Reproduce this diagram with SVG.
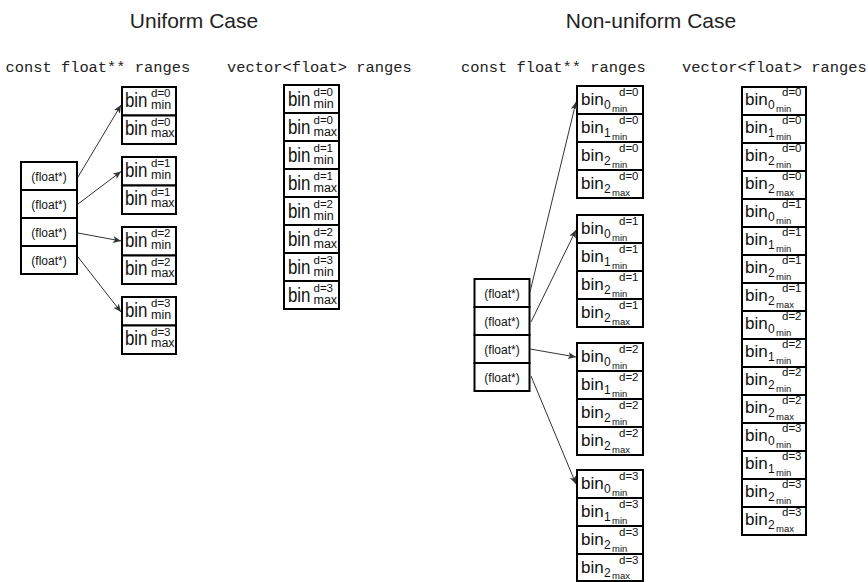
<svg xmlns="http://www.w3.org/2000/svg" width="868" height="582" viewBox="0 0 868 582">
<style>
text{font-family:"Liberation Sans",Arial,sans-serif;fill:#111}
rect.c{fill:#fff;stroke:#000;stroke-width:2}
.t{font-size:21px;fill:#222;text-anchor:middle}
.h{font-family:"Liberation Mono","Courier New",monospace;font-size:15.4px;fill:#222}
.ub{font-size:20px}
.us{font-size:11.5px}
.ul{font-size:12.5px}
.nb{font-size:17px}
.nd{font-size:12px}
.nm{font-size:9.5px}
.ns{font-size:11.5px}
.f{font-size:12px;text-anchor:middle}
.arr line{stroke:#333;stroke-width:1;marker-end:url(#ah)}
</style>
<defs>
<marker id="ah" markerUnits="userSpaceOnUse" markerWidth="9" markerHeight="8" refX="8" refY="3.5" orient="auto">
<path d="M0,0 L8,3.5 L0,7 L2,3.5 Z" fill="#333"/>
</marker>
</defs>
<rect width="868" height="582" fill="#fff"/>
<g id="titles">
<text class="t" x="194" y="28">Uniform Case</text>
<text class="t" x="651" y="28">Non-uniform Case</text>
<text class="h" x="5.5" y="71.5">const float** ranges</text>
<text class="h" x="227" y="71.5">vector&lt;float&gt; ranges</text>
<text class="h" x="461" y="71.5">const float** ranges</text>
<text class="h" x="682" y="71.5">vector&lt;float&gt; ranges</text>
</g>
<g id="uniform-ptrs">
<rect class="c" x="21" y="162" width="56" height="28"/><text class="f" x="49" y="180.5">(float*)</text>
<rect class="c" x="21" y="190" width="56" height="28"/><text class="f" x="49" y="208.5">(float*)</text>
<rect class="c" x="21" y="218" width="56" height="28"/><text class="f" x="49" y="236.5">(float*)</text>
<rect class="c" x="21" y="246" width="56" height="28"/><text class="f" x="49" y="264.5">(float*)</text>
</g>
<g id="uniform-d0">
<g transform="translate(122,87)"><rect class="c" width="54" height="28.5"/><text class="ub" x="3" y="19.5" textLength="22.5" lengthAdjust="spacingAndGlyphs">bin</text><text class="us" x="29" y="10">d=0</text><text class="ul" x="29" y="21.5">min</text></g>
<g transform="translate(122,115.5)"><rect class="c" width="54" height="28.5"/><text class="ub" x="3" y="19.5" textLength="22.5" lengthAdjust="spacingAndGlyphs">bin</text><text class="us" x="29" y="10">d=0</text><text class="ul" x="29" y="21.5">max</text></g>
</g>
<g id="uniform-d1">
<g transform="translate(122,157)"><rect class="c" width="54" height="28.5"/><text class="ub" x="3" y="19.5" textLength="22.5" lengthAdjust="spacingAndGlyphs">bin</text><text class="us" x="29" y="10">d=1</text><text class="ul" x="29" y="21.5">min</text></g>
<g transform="translate(122,185.5)"><rect class="c" width="54" height="28.5"/><text class="ub" x="3" y="19.5" textLength="22.5" lengthAdjust="spacingAndGlyphs">bin</text><text class="us" x="29" y="10">d=1</text><text class="ul" x="29" y="21.5">max</text></g>
</g>
<g id="uniform-d2">
<g transform="translate(122,227)"><rect class="c" width="54" height="28.5"/><text class="ub" x="3" y="19.5" textLength="22.5" lengthAdjust="spacingAndGlyphs">bin</text><text class="us" x="29" y="10">d=2</text><text class="ul" x="29" y="21.5">min</text></g>
<g transform="translate(122,255.5)"><rect class="c" width="54" height="28.5"/><text class="ub" x="3" y="19.5" textLength="22.5" lengthAdjust="spacingAndGlyphs">bin</text><text class="us" x="29" y="10">d=2</text><text class="ul" x="29" y="21.5">max</text></g>
</g>
<g id="uniform-d3">
<g transform="translate(122,297)"><rect class="c" width="54" height="28.5"/><text class="ub" x="3" y="19.5" textLength="22.5" lengthAdjust="spacingAndGlyphs">bin</text><text class="us" x="29" y="10">d=3</text><text class="ul" x="29" y="21.5">min</text></g>
<g transform="translate(122,325.5)"><rect class="c" width="54" height="28.5"/><text class="ub" x="3" y="19.5" textLength="22.5" lengthAdjust="spacingAndGlyphs">bin</text><text class="us" x="29" y="10">d=3</text><text class="ul" x="29" y="21.5">max</text></g>
</g>
<g id="uniform-vector">
<g transform="translate(284,85)"><rect class="c" width="55" height="28"/><text class="ub" x="4" y="21" textLength="22.5" lengthAdjust="spacingAndGlyphs">bin</text><text class="us" x="29.5" y="11">d=0</text><text class="ul" x="29.5" y="23">min</text></g>
<g transform="translate(284,113)"><rect class="c" width="55" height="28"/><text class="ub" x="4" y="21" textLength="22.5" lengthAdjust="spacingAndGlyphs">bin</text><text class="us" x="29.5" y="11">d=0</text><text class="ul" x="29.5" y="23">max</text></g>
<g transform="translate(284,141)"><rect class="c" width="55" height="28"/><text class="ub" x="4" y="21" textLength="22.5" lengthAdjust="spacingAndGlyphs">bin</text><text class="us" x="29.5" y="11">d=1</text><text class="ul" x="29.5" y="23">min</text></g>
<g transform="translate(284,169)"><rect class="c" width="55" height="28"/><text class="ub" x="4" y="21" textLength="22.5" lengthAdjust="spacingAndGlyphs">bin</text><text class="us" x="29.5" y="11">d=1</text><text class="ul" x="29.5" y="23">max</text></g>
<g transform="translate(284,197)"><rect class="c" width="55" height="28"/><text class="ub" x="4" y="21" textLength="22.5" lengthAdjust="spacingAndGlyphs">bin</text><text class="us" x="29.5" y="11">d=2</text><text class="ul" x="29.5" y="23">min</text></g>
<g transform="translate(284,225)"><rect class="c" width="55" height="28"/><text class="ub" x="4" y="21" textLength="22.5" lengthAdjust="spacingAndGlyphs">bin</text><text class="us" x="29.5" y="11">d=2</text><text class="ul" x="29.5" y="23">max</text></g>
<g transform="translate(284,253)"><rect class="c" width="55" height="28"/><text class="ub" x="4" y="21" textLength="22.5" lengthAdjust="spacingAndGlyphs">bin</text><text class="us" x="29.5" y="11">d=3</text><text class="ul" x="29.5" y="23">min</text></g>
<g transform="translate(284,281)"><rect class="c" width="55" height="28"/><text class="ub" x="4" y="21" textLength="22.5" lengthAdjust="spacingAndGlyphs">bin</text><text class="us" x="29.5" y="11">d=3</text><text class="ul" x="29.5" y="23">max</text></g>
</g>
<g id="nonuniform-ptrs">
<rect class="c" x="474.5" y="279" width="55" height="28"/><text class="f" x="502" y="297.5">(float*)</text>
<rect class="c" x="474.5" y="307" width="55" height="28"/><text class="f" x="502" y="325.5">(float*)</text>
<rect class="c" x="474.5" y="335" width="55" height="28"/><text class="f" x="502" y="353.5">(float*)</text>
<rect class="c" x="474.5" y="363" width="55" height="28"/><text class="f" x="502" y="381.5">(float*)</text>
</g>
<g id="nonuniform-d0">
<g transform="translate(577,86)"><rect class="c" width="66" height="28"/><text class="nb" x="4" y="19">bin</text><text class="nd" x="27" y="23">0</text><text class="nm" x="35" y="25.5">min</text><text class="ns" x="42" y="9.5">d=0</text></g>
<g transform="translate(577,114)"><rect class="c" width="66" height="28"/><text class="nb" x="4" y="19">bin</text><text class="nd" x="27" y="23">1</text><text class="nm" x="35" y="25.5">min</text><text class="ns" x="42" y="9.5">d=0</text></g>
<g transform="translate(577,142)"><rect class="c" width="66" height="28"/><text class="nb" x="4" y="19">bin</text><text class="nd" x="27" y="23">2</text><text class="nm" x="35" y="25.5">min</text><text class="ns" x="42" y="9.5">d=0</text></g>
<g transform="translate(577,170)"><rect class="c" width="66" height="28"/><text class="nb" x="4" y="19">bin</text><text class="nd" x="27" y="23">2</text><text class="nm" x="35" y="25.5">max</text><text class="ns" x="42" y="9.5">d=0</text></g>
</g>
<g id="nonuniform-d1">
<g transform="translate(577,215)"><rect class="c" width="66" height="28"/><text class="nb" x="4" y="19">bin</text><text class="nd" x="27" y="23">0</text><text class="nm" x="35" y="25.5">min</text><text class="ns" x="42" y="9.5">d=1</text></g>
<g transform="translate(577,243)"><rect class="c" width="66" height="28"/><text class="nb" x="4" y="19">bin</text><text class="nd" x="27" y="23">1</text><text class="nm" x="35" y="25.5">min</text><text class="ns" x="42" y="9.5">d=1</text></g>
<g transform="translate(577,271)"><rect class="c" width="66" height="28"/><text class="nb" x="4" y="19">bin</text><text class="nd" x="27" y="23">2</text><text class="nm" x="35" y="25.5">min</text><text class="ns" x="42" y="9.5">d=1</text></g>
<g transform="translate(577,299)"><rect class="c" width="66" height="28"/><text class="nb" x="4" y="19">bin</text><text class="nd" x="27" y="23">2</text><text class="nm" x="35" y="25.5">max</text><text class="ns" x="42" y="9.5">d=1</text></g>
</g>
<g id="nonuniform-d2">
<g transform="translate(577,343)"><rect class="c" width="66" height="28"/><text class="nb" x="4" y="19">bin</text><text class="nd" x="27" y="23">0</text><text class="nm" x="35" y="25.5">min</text><text class="ns" x="42" y="9.5">d=2</text></g>
<g transform="translate(577,371)"><rect class="c" width="66" height="28"/><text class="nb" x="4" y="19">bin</text><text class="nd" x="27" y="23">1</text><text class="nm" x="35" y="25.5">min</text><text class="ns" x="42" y="9.5">d=2</text></g>
<g transform="translate(577,399)"><rect class="c" width="66" height="28"/><text class="nb" x="4" y="19">bin</text><text class="nd" x="27" y="23">2</text><text class="nm" x="35" y="25.5">min</text><text class="ns" x="42" y="9.5">d=2</text></g>
<g transform="translate(577,427)"><rect class="c" width="66" height="28"/><text class="nb" x="4" y="19">bin</text><text class="nd" x="27" y="23">2</text><text class="nm" x="35" y="25.5">max</text><text class="ns" x="42" y="9.5">d=2</text></g>
</g>
<g id="nonuniform-d3">
<g transform="translate(577,470)"><rect class="c" width="66" height="28"/><text class="nb" x="4" y="19">bin</text><text class="nd" x="27" y="23">0</text><text class="nm" x="35" y="25.5">min</text><text class="ns" x="42" y="9.5">d=3</text></g>
<g transform="translate(577,498)"><rect class="c" width="66" height="28"/><text class="nb" x="4" y="19">bin</text><text class="nd" x="27" y="23">1</text><text class="nm" x="35" y="25.5">min</text><text class="ns" x="42" y="9.5">d=3</text></g>
<g transform="translate(577,526)"><rect class="c" width="66" height="28"/><text class="nb" x="4" y="19">bin</text><text class="nd" x="27" y="23">2</text><text class="nm" x="35" y="25.5">min</text><text class="ns" x="42" y="9.5">d=3</text></g>
<g transform="translate(577,554)"><rect class="c" width="66" height="27"/><text class="nb" x="4" y="19">bin</text><text class="nd" x="27" y="23">2</text><text class="nm" x="35" y="25">max</text><text class="ns" x="42" y="9.5">d=3</text></g>
</g>
<g id="nonuniform-vector">
<g transform="translate(742,87)"><rect class="c" width="64" height="28"/><text class="nb" x="3" y="18">bin</text><text class="nd" x="26" y="22">0</text><text class="nm" x="34" y="24.5">min</text><text class="ns" x="40" y="9">d=0</text></g>
<g transform="translate(742,115)"><rect class="c" width="64" height="28"/><text class="nb" x="3" y="18">bin</text><text class="nd" x="26" y="22">1</text><text class="nm" x="34" y="24.5">min</text><text class="ns" x="40" y="9">d=0</text></g>
<g transform="translate(742,143)"><rect class="c" width="64" height="28"/><text class="nb" x="3" y="18">bin</text><text class="nd" x="26" y="22">2</text><text class="nm" x="34" y="24.5">min</text><text class="ns" x="40" y="9">d=0</text></g>
<g transform="translate(742,171)"><rect class="c" width="64" height="28"/><text class="nb" x="3" y="18">bin</text><text class="nd" x="26" y="22">2</text><text class="nm" x="34" y="24.5">max</text><text class="ns" x="40" y="9">d=0</text></g>
<g transform="translate(742,199)"><rect class="c" width="64" height="28"/><text class="nb" x="3" y="18">bin</text><text class="nd" x="26" y="22">0</text><text class="nm" x="34" y="24.5">min</text><text class="ns" x="40" y="9">d=1</text></g>
<g transform="translate(742,227)"><rect class="c" width="64" height="28"/><text class="nb" x="3" y="18">bin</text><text class="nd" x="26" y="22">1</text><text class="nm" x="34" y="24.5">min</text><text class="ns" x="40" y="9">d=1</text></g>
<g transform="translate(742,255)"><rect class="c" width="64" height="28"/><text class="nb" x="3" y="18">bin</text><text class="nd" x="26" y="22">2</text><text class="nm" x="34" y="24.5">min</text><text class="ns" x="40" y="9">d=1</text></g>
<g transform="translate(742,283)"><rect class="c" width="64" height="28"/><text class="nb" x="3" y="18">bin</text><text class="nd" x="26" y="22">2</text><text class="nm" x="34" y="24.5">max</text><text class="ns" x="40" y="9">d=1</text></g>
<g transform="translate(742,311)"><rect class="c" width="64" height="28"/><text class="nb" x="3" y="18">bin</text><text class="nd" x="26" y="22">0</text><text class="nm" x="34" y="24.5">min</text><text class="ns" x="40" y="9">d=2</text></g>
<g transform="translate(742,339)"><rect class="c" width="64" height="28"/><text class="nb" x="3" y="18">bin</text><text class="nd" x="26" y="22">1</text><text class="nm" x="34" y="24.5">min</text><text class="ns" x="40" y="9">d=2</text></g>
<g transform="translate(742,367)"><rect class="c" width="64" height="28"/><text class="nb" x="3" y="18">bin</text><text class="nd" x="26" y="22">2</text><text class="nm" x="34" y="24.5">min</text><text class="ns" x="40" y="9">d=2</text></g>
<g transform="translate(742,395)"><rect class="c" width="64" height="28"/><text class="nb" x="3" y="18">bin</text><text class="nd" x="26" y="22">2</text><text class="nm" x="34" y="24.5">max</text><text class="ns" x="40" y="9">d=2</text></g>
<g transform="translate(742,423)"><rect class="c" width="64" height="28"/><text class="nb" x="3" y="18">bin</text><text class="nd" x="26" y="22">0</text><text class="nm" x="34" y="24.5">min</text><text class="ns" x="40" y="9">d=3</text></g>
<g transform="translate(742,451)"><rect class="c" width="64" height="28"/><text class="nb" x="3" y="18">bin</text><text class="nd" x="26" y="22">1</text><text class="nm" x="34" y="24.5">min</text><text class="ns" x="40" y="9">d=3</text></g>
<g transform="translate(742,479)"><rect class="c" width="64" height="28"/><text class="nb" x="3" y="18">bin</text><text class="nd" x="26" y="22">2</text><text class="nm" x="34" y="24.5">min</text><text class="ns" x="40" y="9">d=3</text></g>
<g transform="translate(742,507)"><rect class="c" width="64" height="28"/><text class="nb" x="3" y="18">bin</text><text class="nd" x="26" y="22">2</text><text class="nm" x="34" y="24.5">max</text><text class="ns" x="40" y="9">d=3</text></g>
</g>
<g id="connectors" class="arr">
<line x1="78" y1="177" x2="121" y2="105"/>
<line x1="78" y1="204" x2="121" y2="171.5"/>
<line x1="78" y1="233" x2="121" y2="241"/>
<line x1="78" y1="257" x2="121" y2="312"/>
<line x1="530" y1="292" x2="576" y2="102"/>
<line x1="531" y1="322" x2="576" y2="230"/>
<line x1="530" y1="349" x2="576" y2="357"/>
<line x1="531" y1="376" x2="576" y2="484"/>
</g>
</svg>
